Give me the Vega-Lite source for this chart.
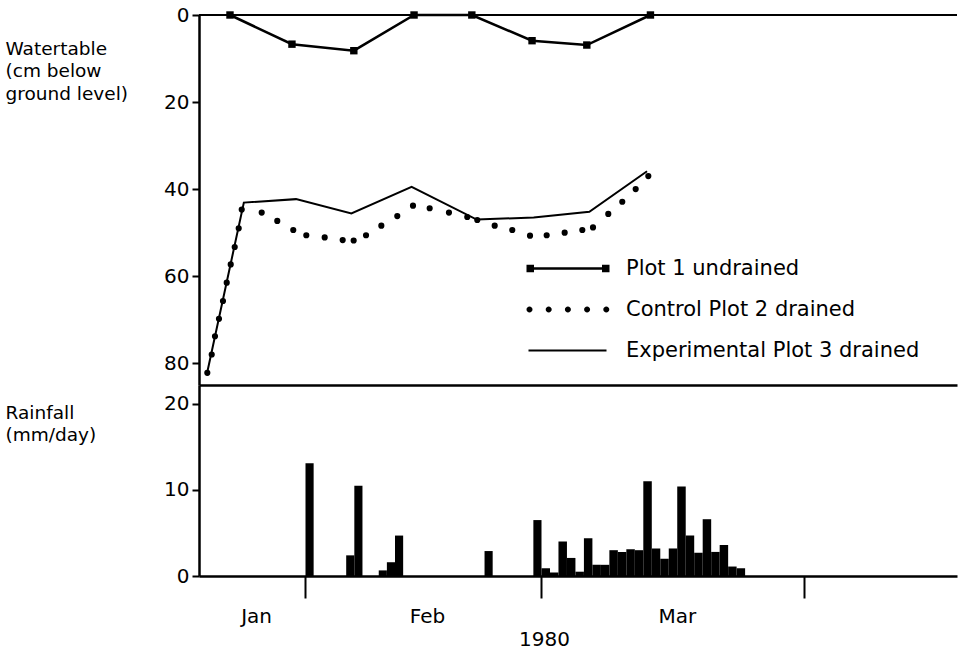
{
  "$schema": "https://vega.github.io/schema/vega-lite/v6.json",
  "padding": {"left": 5, "top": 5, "right": 0, "bottom": 0},
  "config": {
    "view": {"stroke": null},
    "font": "DejaVu Sans",
    "axis": {
      "domainColor": "black", "domainWidth": 2.5, "tickColor": "black", "tickWidth": 2,
      "labelColor": "black", "labelFont": "DejaVu Sans", "labelFontSize": 20,
      "titleFont": "DejaVu Sans", "titleFontSize": 18.5, "titleFontWeight": "normal", "titleColor": "black",
      "grid": false
    }
  },
  "datasets": {
    "plot1": [
      {"day": 22.8, "depth": 0}, {"day": 30.4, "depth": 6.7}, {"day": 38.0, "depth": 8.2}, {"day": 45.4, "depth": 0},
      {"day": 52.5, "depth": 0}, {"day": 59.9, "depth": 5.9}, {"day": 66.4, "depth": 6.9}, {"day": 73.9, "depth": 0}
    ],
    "plot3": [
      {"day": 20.0, "depth": 82.2}, {"day": 24.5, "depth": 43.1}, {"day": 30.9, "depth": 42.3}, {"day": 37.7, "depth": 45.6},
      {"day": 45.1, "depth": 39.5}, {"day": 53.1, "depth": 47.0}, {"day": 60.1, "depth": 46.5}, {"day": 66.7, "depth": 45.2},
      {"day": 73.5, "depth": 35.9}
    ],
    "plot2": [
      {"day": 20.02, "depth": 82.2}, {"day": 20.56, "depth": 78.0}, {"day": 20.96, "depth": 73.8}, {"day": 21.45, "depth": 69.8},
      {"day": 21.94, "depth": 65.7}, {"day": 22.40, "depth": 61.5}, {"day": 22.89, "depth": 57.3}, {"day": 23.38, "depth": 53.3},
      {"day": 23.87, "depth": 49.0}, {"day": 24.24, "depth": 44.7}, {"day": 26.69, "depth": 45.4}, {"day": 28.60, "depth": 47.3},
      {"day": 30.56, "depth": 49.4}, {"day": 32.16, "depth": 50.6}, {"day": 34.42, "depth": 51.1}, {"day": 36.63, "depth": 51.7},
      {"day": 37.98, "depth": 51.8}, {"day": 39.50, "depth": 50.6}, {"day": 41.38, "depth": 48.4}, {"day": 43.34, "depth": 46.2},
      {"day": 45.27, "depth": 43.8}, {"day": 47.32, "depth": 44.4}, {"day": 49.69, "depth": 45.4}, {"day": 51.94, "depth": 46.4},
      {"day": 53.17, "depth": 47.1}, {"day": 55.31, "depth": 48.4}, {"day": 57.47, "depth": 49.4}, {"day": 59.65, "depth": 50.7},
      {"day": 61.67, "depth": 50.6}, {"day": 63.79, "depth": 50.0}, {"day": 65.87, "depth": 49.4}, {"day": 67.13, "depth": 48.8},
      {"day": 68.93, "depth": 45.7}, {"day": 70.58, "depth": 42.9}, {"day": 72.16, "depth": 40.0}, {"day": 73.65, "depth": 37.0}
    ],
    "legend": [
      {"series": "Plot 1 undrained"}, {"series": "Control Plot 2 drained"}, {"series": "Experimental Plot 3 drained"}
    ],
    "rain": [
      {"day": 32, "rain": 13.1}, {"day": 37, "rain": 2.4}, {"day": 38, "rain": 10.5}, {"day": 41, "rain": 0.65},
      {"day": 42, "rain": 1.6}, {"day": 43, "rain": 4.7}, {"day": 54, "rain": 2.9}, {"day": 60, "rain": 6.5},
      {"day": 61, "rain": 0.9}, {"day": 62, "rain": 0.4}, {"day": 63, "rain": 4.0}, {"day": 64, "rain": 2.1},
      {"day": 65, "rain": 0.5}, {"day": 66, "rain": 4.4}, {"day": 67, "rain": 1.3}, {"day": 68, "rain": 1.3},
      {"day": 69, "rain": 3.0}, {"day": 70, "rain": 2.8}, {"day": 71, "rain": 3.1}, {"day": 72, "rain": 3.0},
      {"day": 73, "rain": 11.0}, {"day": 74, "rain": 3.2}, {"day": 75, "rain": 2.0}, {"day": 76, "rain": 3.2},
      {"day": 77, "rain": 10.4}, {"day": 78, "rain": 4.7}, {"day": 79, "rain": 2.7}, {"day": 80, "rain": 6.6},
      {"day": 81, "rain": 2.8}, {"day": 82, "rain": 3.6}, {"day": 83, "rain": 1.1}, {"day": 84, "rain": 0.9}
    ]
  },
  "vconcat": [
    {
      "width": 758,
      "height": 370,
      "layer": [
        {
          "data": {"name": "plot1"},
          "mark": {"type": "rule", "color": "black", "strokeWidth": 2},
          "encoding": {
            "y": {"datum": 0, "type": "quantitative", "scale": {"domain": [0, 85], "reverse": true, "nice": false, "zero": false}}
          }
        },
        {
          "data": {"name": "plot3"},
          "mark": {"type": "line", "color": "black", "strokeWidth": 2},
          "encoding": {
            "x": {"field": "day", "type": "quantitative",
                  "scale": {"domain": [19, 32, 61, 92, 110], "range": [0, 106, 342, 605, 758], "nice": false, "zero": false},
                  "axis": {"values": [], "ticks": false, "labels": false, "domain": true, "title": null}},
            "y": {"field": "depth", "type": "quantitative",
                  "scale": {"domain": [0, 85], "reverse": true, "nice": false, "zero": false},
                  "axis": {"values": [0, 20, 40, 60, 80], "tickSize": 7, "labelPadding": 3,
                           "title": ["Watertable", "(cm below", "ground level)"],
                           "titleAngle": 0, "titleAlign": "left", "titleBaseline": "top",
                           "titleX": -194, "titleY": 24, "titleLineHeight": 22.5}}
          }
        },
        {
          "data": {"name": "plot1"},
          "mark": {"type": "line", "color": "black", "strokeWidth": 2.5,
                   "point": {"shape": "square", "filled": true, "size": 55, "color": "black"}},
          "encoding": {
            "x": {"field": "day", "type": "quantitative"},
            "y": {"field": "depth", "type": "quantitative"}
          }
        },
        {
          "data": {"name": "plot2"},
          "mark": {"type": "circle", "color": "black", "size": 38, "opacity": 1},
          "encoding": {
            "x": {"field": "day", "type": "quantitative"},
            "y": {"field": "depth", "type": "quantitative"}
          }
        },
        {
          "data": {"name": "legend"},
          "mark": {"type": "point", "filled": true, "color": "black", "opacity": 0, "size": 400},
          "encoding": {
            "shape": {
              "field": "series", "type": "nominal",
              "scale": {
                "domain": ["Plot 1 undrained", "Control Plot 2 drained", "Experimental Plot 3 drained"],
                "range": [
                  "M-1,-0.375H-0.25V0.375H-1Z M6.55,-0.375H7.3V0.375H6.55Z M-0.5,-0.125H6.8V0.125H-0.5Z",
                  "M-1,0a0.3,0.3 0 1,0 0.6,0a0.3,0.3 0 1,0 -0.6,0Z M0.92,0a0.3,0.3 0 1,0 0.6,0a0.3,0.3 0 1,0 -0.6,0Z M2.84,0a0.3,0.3 0 1,0 0.6,0a0.3,0.3 0 1,0 -0.6,0Z M4.76,0a0.3,0.3 0 1,0 0.6,0a0.3,0.3 0 1,0 -0.6,0Z M6.68,0a0.3,0.3 0 1,0 0.6,0a0.3,0.3 0 1,0 -0.6,0Z",
                  "M-0.8,-0.09H7V0.09H-0.8Z"
                ]
              },
              "legend": {
                "orient": "none", "legendX": 327, "legendY": 243, "title": null, "direction": "vertical",
                "labelFont": "DejaVu Sans", "labelFontSize": 21, "labelColor": "black", "labelOffset": 79,
                "labelLimit": 500, "rowPadding": 19, "symbolSize": 400, "symbolOpacity": 1,
                "symbolFillColor": "black", "symbolStrokeWidth": 0, "padding": 0
              }
            }
          }
        }
      ]
    },
    {
      "width": 758,
      "height": 191,
      "data": {"name": "rain"},
      "mark": {"type": "bar", "color": "black", "binSpacing": 0},
      "encoding": {
        "x": {"field": "day", "type": "quantitative", "bin": {"binned": true, "step": 1},
              "scale": {"domain": [19, 32, 61, 92, 110], "range": [0, 106, 342, 605, 758], "nice": false, "zero": false},
              "axis": {"values": [26, 32, 47, 61, 77, 92],
                       "labelExpr": "datum.value == 26 ? 'Jan' : datum.value == 47 ? 'Feb' : datum.value == 77 ? 'Mar' : ''",
                       "tickOpacity": {"condition": {"test": "datum.value == 26 || datum.value == 47 || datum.value == 77", "value": 0}, "value": 1},
                       "tickSize": 22, "labelPadding": 8, "labelOverlap": false, "labelFlush": false,
                       "labelFontSize": 20,
                       "title": "1980", "titleFontSize": 20, "titleX": 345, "titlePadding": 3}},
        "y": {"field": "rain", "type": "quantitative",
              "scale": {"domain": [0, 22.2], "nice": false, "zero": false},
              "axis": {"values": [0, 10, 20], "tickSize": 7, "labelPadding": 3,
                       "title": ["Rainfall", "(mm/day)"],
                       "titleAngle": 0, "titleAlign": "left", "titleBaseline": "top",
                       "titleX": -194, "titleY": 18, "titleLineHeight": 22.5}}
      }
    }
  ],
  "spacing": 0,
  "bounds": "flush",
  "resolve": {"scale": {"shape": "independent"}, "legend": {"shape": "independent"}}
}
